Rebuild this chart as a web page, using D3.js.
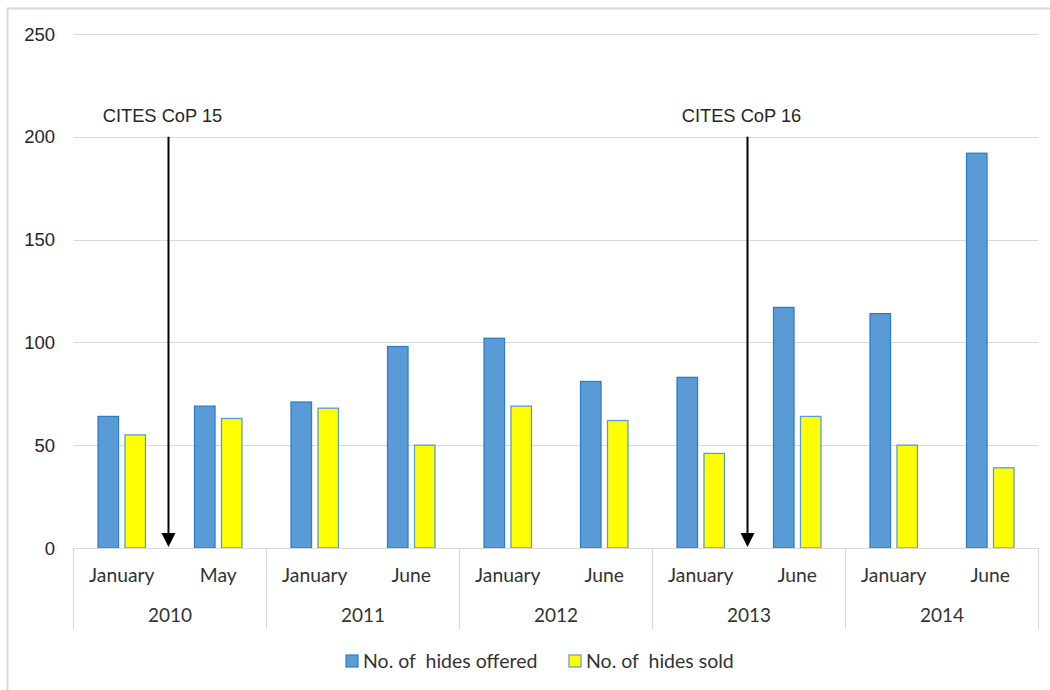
<!DOCTYPE html>
<html><head><meta charset="utf-8">
<script src="https://cdn.jsdelivr.net/npm/d3@7/dist/d3.min.js"></script>
<style>body{margin:0;background:#fff}</style>
</head><body>
<svg id="c" width="1050" height="690"></svg>
<script>
const years = ["2010","2011","2012","2013","2014"];
const months = ["January","May","January","June","January","June","January","June","January","June"];
const offered = [64,69,71,98,102,81,83,117,114,192];
const sold = [55,63,68,50,69,62,46,64,50,39];
const seriesNames = ["No. of  hides offered","No. of  hides sold"];
const yTicks = [0,50,100,150,200,250];
const events = [{label:"CITES CoP 15", after:0},{label:"CITES CoP 16", after:6}];

(function(){
const svg = d3.select("#c");
svg.append("rect").attr("x",7.5).attr("y",8.5).attr("width",1060).attr("height",700)
  .attr("fill","#fff").attr("stroke","#d9d9d9").attr("stroke-width",2);

const pL=73.5,pR=1038.5,pT=34,pB=548;
const idx = d3.range(months.length);
const x = d3.scaleBand().domain(idx).range([pL,pR]).paddingInner(0).paddingOuter(0);
const y = d3.scaleLinear().domain([0,250]).range([pB,pT]);
const xs = d3.scaleBand().domain([0,1]).range([0,x.bandwidth()]).paddingInner(0.24).paddingOuter(0.91);

svg.append("g").selectAll("line").data(yTicks).join("line")
  .attr("x1",pL).attr("x2",pR)
  .attr("y1",d=>Math.round(y(d))+0.5).attr("y2",d=>Math.round(y(d))+0.5)
  .attr("stroke","#d9d9d9").attr("stroke-width",1.2);

svg.append("g").selectAll("text").data(yTicks).join("text")
  .attr("x",55).attr("y",d=>y(d)).attr("dy","0.36em").attr("text-anchor","end")
  .attr("font-family","Liberation Sans, Arial, sans-serif").attr("font-size",18.5).attr("fill","#262626")
  .text(d=>d);

const colors=["#5b9bd5","#ffff00"];
const strokes=["#2e7dc8","#5b9bd5"];
[offered,sold].forEach((vals,si)=>{
  svg.append("g").selectAll("rect").data(vals).join("rect")
    .attr("x",(d,i)=>x(i)+xs(si)).attr("width",xs.bandwidth())
    .attr("y",d=>y(d)).attr("height",d=>y(0)-y(d))
    .attr("fill",colors[si]).attr("stroke",strokes[si]).attr("stroke-width",1.3);
});

const axisBottom=629;
svg.append("line").attr("x1",pL).attr("x2",pR).attr("y1",pB+0.5).attr("y2",pB+0.5)
  .attr("stroke","#d9d9d9").attr("stroke-width",1.2);
const bounds = d3.range(0,months.length+1,2).map(i=> i<months.length? x(i) : pR);
svg.append("g").selectAll("line").data(bounds).join("line")
  .attr("x1",d=>d).attr("x2",d=>d).attr("y1",pB).attr("y2",axisBottom)
  .attr("stroke","#d9d9d9").attr("stroke-width",1.2);
svg.append("g").selectAll("text").data(months).join("text")
  .attr("x",(d,i)=>x(i)+x.bandwidth()/2).attr("y",575).attr("dy","0.35em")
  .attr("text-anchor","middle").attr("font-family","Lato, Calibri, sans-serif").attr("font-size",19.3).attr("fill","#333")
  .text(d=>d);
svg.append("g").selectAll("text").data(years).join("text")
  .attr("x",(d,i)=>x(i*2)+x.bandwidth()).attr("y",615).attr("dy","0.35em")
  .attr("text-anchor","middle").attr("font-family","Lato, Calibri, sans-serif").attr("font-size",19).attr("fill","#333")
  .text(d=>d);

events.forEach(ev=>{
  const ax = x(ev.after)+x.bandwidth()-1.5;
  svg.append("line").attr("x1",ax).attr("x2",ax).attr("y1",y(200)).attr("y2",pB-14)
    .attr("stroke","#000").attr("stroke-width",2);
  svg.append("path").attr("d",`M${ax-7},${pB-15} L${ax+7},${pB-15} L${ax},${pB-1} Z`).attr("fill","#000");
  svg.append("text").attr("x",ax-6).attr("y",116).attr("dy","0.35em").attr("text-anchor","middle")
    .attr("font-family","Liberation Sans, Arial, sans-serif").attr("font-size",18.3).attr("fill","#262626")
    .text(ev.label);
});

const leg = [{x:346,name:seriesNames[0]},{x:569,name:seriesNames[1]}];
leg.forEach((l,i)=>{
  svg.append("rect").attr("x",l.x).attr("y",655).attr("width",12).attr("height",12)
    .attr("fill",colors[i]).attr("stroke",strokes[i]).attr("stroke-width",1.2);
  svg.append("text").attr("x",l.x+17).attr("y",661).attr("dy","0.35em")
    .attr("font-family","Lato, Calibri, sans-serif").attr("font-size",19.5).attr("fill","#333")
    .style("white-space","pre").text(l.name);
});
})();
</script>
</body></html>
